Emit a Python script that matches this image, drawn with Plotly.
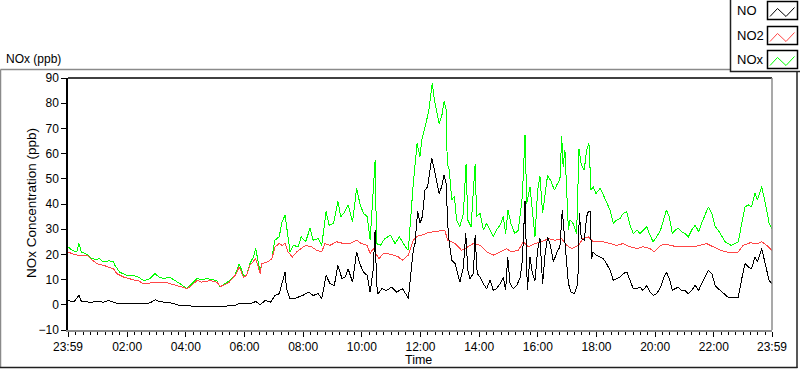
import datetime as dt
import plotly.graph_objects as go

# ---------------- data (hours after 23:59 start, ppb) ----------------
no_hours = [0.0, 0.2, 0.375, 0.45, 0.6, 0.8, 1.0, 1.2, 1.4, 1.6, 1.8, 2.0, 2.2, 2.4, 2.6, 2.8, 2.97, 3.15, 3.36, 3.6,
            3.8, 4.0, 4.2, 4.5, 4.8, 5.1, 5.4, 5.7, 5.86, 6.0, 6.2, 6.4, 6.55, 6.72, 6.9, 7.06, 7.2, 7.3, 7.4, 7.45,
            7.57, 7.7, 7.85, 8.0, 8.2, 8.36, 8.53, 8.65, 8.8, 8.93, 9.08, 9.2, 9.34, 9.45, 9.55, 9.7, 9.84, 9.95, 10.07, 10.2,
            10.3, 10.4, 10.47, 10.52, 10.57, 10.7, 10.86, 11.03, 11.2, 11.4, 11.55, 11.6, 11.7, 11.77, 11.83, 11.92, 12.0, 12.08, 12.17, 12.26,
            12.34, 12.4, 12.49, 12.57, 12.65, 12.74, 12.82, 12.89, 12.95, 13.0, 13.08, 13.2, 13.3, 13.36, 13.48, 13.56, 13.63, 13.7, 13.82, 13.88,
            13.95, 14.05, 14.16, 14.27, 14.39, 14.5, 14.6, 14.73, 14.84, 14.92, 14.99, 15.07, 15.18, 15.3, 15.42, 15.49, 15.58, 15.66, 15.75, 15.83,
            15.92, 16.01, 16.09, 16.18, 16.26, 16.35, 16.43, 16.55, 16.67, 16.77, 16.85, 16.92, 17.0, 17.06, 17.15, 17.26, 17.38, 17.43, 17.5, 17.6,
            17.68, 17.74, 17.8, 17.85, 17.9, 18.0, 18.14, 18.25, 18.36, 18.48, 18.59, 18.7, 18.82, 18.93, 19.05, 19.16, 19.27, 19.4, 19.5, 19.6,
            19.73, 19.84, 19.95, 20.07, 20.2, 20.3, 20.4, 20.5, 20.6, 20.7, 20.8, 20.92, 21.03, 21.15, 21.26, 21.38, 21.5, 21.6, 21.7, 21.83,
            21.95, 22.06, 22.17, 22.3, 22.4, 22.5, 22.6, 22.74, 22.85, 22.97, 23.08, 23.2, 23.3, 23.42, 23.5, 23.65, 23.73, 23.82, 23.9, 24.0]
no_values = [1.7, 1.2, 3.7, 1.5, 1.2, 1.0, 1.5, 1.0, 1.7, 0.8, 0.4, 0.5, 0.3, 0.6, 0.4, 0.8, 2.0, 1.2, 1.0, 0.5,
             -0.3, -0.2, -0.5, -0.6, -0.5, -0.6, -0.5, -0.3, 0.7, 0.4, 0.4, 1.3, 0.0, 1.7, 1.0, 3.7, 4.4, 8.4, 13.0, 6.4,
             2.4, 2.4, 3.0, 3.7, 5.0, 3.7, 4.4, 2.4, 11.7, 8.4, 7.7, 15.7, 10.4, 11.0, 14.3, 9.0, 21.0, 16.3, 13.0, 11.7,
             5.0, 13.7, 29.6, 8.4, 4.4, 6.4, 5.7, 7.0, 5.0, 6.4, 3.7, 2.4, 13.7, 21.6, 24.3, 37.0, 32.3, 35.0, 45.5, 46.9,
             53.5, 58.2, 53.5, 48.2, 44.2, 46.9, 51.5, 48.2, 31.0, 24.3, 17.7, 16.3, 11.0, 9.0, 15.0, 28.3, 13.7, 10.4, 12.4, 27.6,
             12.4, 11.0, 8.4, 6.4, 9.7, 5.7, 6.4, 8.4, 11.0, 5.7, 19.0, 8.4, 6.4, 7.7, 11.0, 17.7, 41.0, 5.7, 19.0, 12.4,
             9.7, 21.6, 26.3, 8.4, 19.7, 27.0, 24.3, 17.0, 21.0, 23.0, 37.6, 27.0, 15.0, 8.4, 5.0, 4.4, 8.4, 36.3, 26.3, 25.6,
             35.0, 37.0, 37.0, 18.3, 21.0, 19.7, 19.0, 18.3, 16.3, 13.7, 9.7, 10.4, 11.0, 12.4, 13.0, 9.7, 6.4, 6.4, 7.0, 5.7,
             7.7, 5.0, 3.7, 4.4, 7.0, 10.4, 13.0, 10.4, 5.7, 6.4, 7.0, 5.7, 5.7, 4.4, 5.7, 7.7, 5.7, 8.4, 11.0, 13.7,
             12.4, 7.7, 6.4, 5.0, 3.7, 3.0, 3.0, 3.0, 3.0, 10.4, 16.3, 15.0, 14.3, 19.0, 17.0, 22.3, 17.7, 13.7, 9.7, 8.4]

no2_hours = [0.0, 0.2, 0.4, 0.64, 0.8, 1.0, 1.2, 1.4, 1.55, 1.66, 1.9, 2.2, 2.4, 2.57, 2.75, 2.9, 3.1, 3.36, 3.6, 3.8,
             3.9, 4.05, 4.2, 4.4, 4.55, 4.7, 4.9, 5.07, 5.2, 5.35, 5.5, 5.7, 5.84, 5.98, 6.09, 6.2, 6.4, 6.55, 6.6, 6.8,
             6.95, 7.06, 7.2, 7.3, 7.4, 7.5, 7.65, 7.8, 7.95, 8.1, 8.3, 8.48, 8.65, 8.76, 8.93, 9.16, 9.4, 9.6, 9.84, 10.0,
             10.2, 10.3, 10.4, 10.6, 10.75, 10.9, 11.1, 11.26, 11.4, 11.6, 11.77, 11.95, 12.06, 12.28, 12.5, 12.84, 12.95, 13.2, 13.42, 13.65,
             13.82, 14.05, 14.27, 14.5, 14.73, 14.95, 15.1, 15.35, 15.52, 15.7, 15.92, 16.15, 16.38, 16.6, 16.83, 17.0, 17.17, 17.4, 17.56, 17.74,
             17.9, 18.0, 18.25, 18.48, 18.7, 18.93, 19.16, 19.4, 19.6, 19.84, 19.98, 20.2, 20.4, 20.6, 20.84, 21.07, 21.3, 21.55, 21.77, 22.0,
             22.24, 22.45, 22.7, 22.85, 23.02, 23.25, 23.5, 23.65, 23.82, 24.0]
no2_values = [21.0, 20.0, 19.5, 19.7, 18.0, 16.3, 15.7, 15.0, 14.3, 12.4, 11.0, 10.0, 9.5, 8.4, 8.5, 9.0, 9.0, 8.8, 8.0, 7.5,
              7.0, 6.4, 7.5, 9.7, 9.0, 9.4, 9.5, 9.0, 7.3, 8.0, 9.0, 11.7, 15.0, 11.0, 11.7, 15.7, 18.3, 12.4, 16.3, 17.0,
              18.3, 23.0, 24.3, 23.6, 24.3, 21.0, 19.0, 21.0, 22.3, 23.6, 23.0, 21.6, 21.0, 24.3, 23.6, 25.0, 24.3, 24.3, 25.6, 24.3,
              23.6, 20.3, 22.3, 18.3, 20.3, 20.3, 19.7, 19.0, 17.7, 19.7, 25.6, 27.6, 27.6, 28.7, 29.0, 29.6, 25.6, 24.3, 21.6, 23.0,
              24.3, 23.6, 21.0, 19.7, 21.0, 22.3, 21.0, 21.6, 25.0, 23.0, 24.3, 25.0, 26.3, 25.6, 26.3, 23.6, 22.3, 23.6, 26.3, 27.0,
              25.0, 25.0, 25.0, 24.3, 23.6, 24.3, 23.0, 22.3, 23.0, 22.3, 21.0, 23.6, 24.0, 23.4, 23.0, 23.0, 23.0, 23.6, 24.3, 23.0,
              21.6, 21.0, 20.6, 21.0, 23.6, 24.6, 24.3, 25.0, 23.6, 21.6]

nox_hours = [0.0, 0.15, 0.3, 0.375, 0.45, 0.64, 0.8, 0.95, 1.09, 1.2, 1.4, 1.55, 1.6, 1.76, 1.99, 2.2, 2.4, 2.57, 2.75, 2.9,
             2.97, 3.1, 3.25, 3.45, 3.6, 3.82, 4.05, 4.2, 4.39, 4.55, 4.73, 4.9, 5.07, 5.18, 5.35, 5.52, 5.7, 5.84, 5.98, 6.09,
             6.2, 6.32, 6.4, 6.55, 6.6, 6.8, 6.95, 7.05, 7.2, 7.3, 7.4, 7.45, 7.57, 7.68, 7.85, 7.95, 8.1, 8.25, 8.36, 8.53,
             8.65, 8.8, 8.9, 9.05, 9.2, 9.3, 9.4, 9.55, 9.7, 9.84, 9.95, 10.07, 10.2, 10.3, 10.4, 10.47, 10.52, 10.65, 10.8, 11.0,
             11.15, 11.3, 11.5, 11.6, 11.7, 11.77, 11.9, 12.0, 12.06, 12.15, 12.23, 12.3, 12.375, 12.42, 12.49, 12.57, 12.65, 12.74, 12.82, 12.89,
             12.93, 13.0, 13.08, 13.17, 13.25, 13.36, 13.48, 13.57, 13.63, 13.74, 13.88, 13.93, 14.05, 14.16, 14.27, 14.39, 14.5, 14.6, 14.73, 14.84,
             14.92, 15.0, 15.1, 15.23, 15.35, 15.49, 15.58, 15.64, 15.75, 15.83, 15.92, 16.01, 16.09, 16.18, 16.26, 16.35, 16.47, 16.58, 16.69, 16.77,
             16.83, 16.88, 16.94, 17.0, 17.06, 17.11, 17.22, 17.34, 17.42, 17.5, 17.6, 17.68, 17.76, 17.83, 17.9, 18.0, 18.14, 18.25, 18.36, 18.48,
             18.59, 18.7, 18.82, 18.93, 19.05, 19.16, 19.27, 19.4, 19.5, 19.6, 19.73, 19.84, 19.95, 20.07, 20.2, 20.3, 20.4, 20.5, 20.6, 20.7,
             20.8, 20.92, 21.03, 21.15, 21.26, 21.38, 21.5, 21.6, 21.7, 21.83, 21.95, 22.06, 22.17, 22.3, 22.4, 22.5, 22.6, 22.74, 22.85, 22.97,
             23.08, 23.2, 23.3, 23.42, 23.5, 23.65, 23.73, 23.82, 23.9, 24.0]
nox_values = [23.0, 21.5, 21.0, 24.3, 21.0, 20.0, 18.5, 18.0, 18.3, 17.0, 17.5, 17.0, 15.7, 13.0, 11.7, 11.7, 11.0, 9.7, 10.0, 11.7,
              12.4, 11.0, 10.4, 11.0, 10.0, 8.4, 6.4, 8.0, 10.4, 10.0, 10.4, 10.0, 9.7, 7.0, 8.5, 9.7, 12.0, 16.3, 11.7, 11.7,
              16.3, 19.0, 22.3, 13.0, 16.3, 17.0, 18.3, 25.6, 27.0, 33.0, 35.6, 31.0, 21.0, 23.6, 23.0, 27.0, 25.0, 30.3, 25.6, 26.3,
              23.6, 37.0, 31.6, 32.3, 41.0, 35.0, 36.3, 39.6, 33.0, 46.2, 40.2, 36.3, 35.0, 25.6, 45.5, 57.5, 24.3, 23.6, 26.3, 27.6,
              24.3, 27.0, 23.0, 21.6, 37.0, 48.0, 64.0, 58.8, 65.5, 69.5, 74.0, 76.8, 84.0, 88.0, 81.4, 76.0, 72.0, 74.7, 80.7, 77.4,
              56.0, 53.5, 41.6, 43.0, 33.6, 31.0, 36.3, 56.0, 33.6, 31.0, 56.0, 35.0, 36.3, 29.6, 32.3, 29.6, 27.0, 29.6, 31.6, 35.0,
              28.3, 37.6, 32.3, 28.3, 29.6, 43.0, 67.5, 40.2, 46.9, 37.6, 27.0, 45.5, 50.9, 36.3, 43.0, 51.5, 48.9, 45.5, 48.2, 49.5,
              66.8, 54.8, 61.5, 43.0, 29.6, 33.6, 32.3, 28.3, 62.0, 55.5, 53.5, 61.5, 64.0, 45.5, 46.9, 44.2, 46.2, 43.6, 41.0, 37.6,
              32.3, 33.6, 34.3, 36.3, 36.9, 31.6, 28.3, 29.6, 28.3, 29.6, 31.0, 27.6, 25.0, 27.0, 29.6, 33.6, 37.6, 35.0, 28.3, 29.6,
              30.3, 29.0, 28.3, 27.0, 29.6, 31.6, 29.0, 32.3, 35.0, 38.9, 36.3, 31.0, 29.6, 27.0, 25.0, 24.3, 23.6, 24.3, 25.0, 32.3,
              38.9, 39.6, 38.9, 44.2, 41.6, 46.9, 42.9, 37.6, 32.3, 30.3]

tick_labels = ["23:59", "02:00", "04:00", "06:00", "08:00", "10:00", "12:00",
               "14:00", "16:00", "18:00", "20:00", "22:00", "23:59"]
series_names = ["NO", "NO2", "NOx"]
series_colors = ["#000000", "#ff4646", "#00ff00"]

# ---------------- helpers ----------------
start = dt.datetime(2024, 1, 1, 23, 59)


def to_time(hours):
    return [start + dt.timedelta(hours=h) for h in hours]


tick_vals = []
for i, lab in enumerate(tick_labels):
    hh, mm = map(int, lab.split(":"))
    day = 1 if i == 0 else 2
    tick_vals.append(dt.datetime(2024, 1, day, hh, mm))

W, H = 800, 369
L, R, T, B = 68, 772, 78, 330   # plot area pixel box


def px(x):
    return (x - L) / (R - L)


def py(y):
    return (B - y) / (B - T)


FONT = "Liberation Sans"

fig = go.Figure()
for hrs, vals, name, col in [(nox_hours, nox_values, series_names[2], series_colors[2]),
                             (no2_hours, no2_values, series_names[1], series_colors[1]),
                             (no_hours, no_values, series_names[0], series_colors[0])]:
    fig.add_trace(go.Scatter(x=to_time(hrs), y=vals, mode="lines", name=name,
                             line=dict(color=col, width=1), showlegend=False))

shapes = []
# outer panel frame: light top/left, dark bottom/right
shapes.append(dict(type="line", xref="paper", yref="paper", x0=px(0.5), x1=px(797), y0=py(69.5), y1=py(69.5),
                   line=dict(color="#8a8a8a", width=1.5)))
shapes.append(dict(type="line", xref="paper", yref="paper", x0=px(0.5), x1=px(0.5), y0=py(69.5), y1=py(368),
                   line=dict(color="#8a8a8a", width=1.5)))
shapes.append(dict(type="line", xref="paper", yref="paper", x0=px(0), x1=px(797.5), y0=py(367.5), y1=py(367.5),
                   line=dict(color="#202020", width=1.5)))
shapes.append(dict(type="line", xref="paper", yref="paper", x0=px(797), x1=px(797), y0=py(69), y1=py(368),
                   line=dict(color="#202020", width=1.5)))
# plot-area border: top & left black, right gray
shapes.append(dict(type="line", xref="paper", yref="paper", x0=0, x1=1, y0=1, y1=1,
                   line=dict(color="#000000", width=1.5)))
shapes.append(dict(type="line", xref="paper", yref="paper", x0=1, x1=1, y0=0, y1=1,
                   line=dict(color="#8c8c8c", width=1.5)))

# legend box
shapes.append(dict(type="rect", xref="paper", yref="paper", x0=px(730.5), x1=px(801), y0=py(71.5), y1=py(-2),
                   fillcolor="white", line=dict(color="#202020", width=1.5)))
annotations = []
leg_rows = [10.5, 35.5, 59.5]
for name, col, yc in zip(series_names, series_colors, leg_rows):
    shapes.append(dict(type="rect", xref="paper", yref="paper", x0=px(767.5), x1=px(797.5),
                       y0=py(yc + 9), y1=py(yc - 9), fillcolor="white",
                       line=dict(color="#000000", width=1.5)))
    pts = [(770, yc + 6), (777.5, yc - 2), (786, yc + 6), (794.5, yc - 3)]
    path = "M " + " L ".join(f"{px(a):.5f},{py(b):.5f}" for a, b in pts)
    shapes.append(dict(type="path", xref="paper", yref="paper", path=path,
                       line=dict(color=col, width=1)))
    annotations.append(dict(text=name, xref="paper", yref="paper", x=px(735), y=py(yc),
                            xanchor="left", yanchor="middle", showarrow=False,
                            font=dict(family=FONT, size=13, color="#000000")))

annotations.append(dict(text="NOx (ppb)", xref="paper", yref="paper", x=px(4), y=py(58.5),
                        xanchor="left", yanchor="middle", showarrow=False,
                        font=dict(family=FONT, size=12, color="#000000")))
annotations.append(dict(text="NOx Concentration (ppb)", xref="paper", yref="paper", x=px(31), y=py(203),
                        xanchor="center", yanchor="middle", textangle=-90, showarrow=False,
                        font=dict(family=FONT, size=13.5, color="#000000")))
annotations.append(dict(text="Time", xref="paper", yref="paper", x=px(418), y=py(360),
                        xanchor="center", yanchor="middle", showarrow=False,
                        font=dict(family=FONT, size=12.5, color="#000000")))

fig.update_layout(
    width=W, height=H,
    margin=dict(l=L, r=W - R, t=T, b=H - B, pad=0),
    paper_bgcolor="white", plot_bgcolor="white",
    showlegend=False,
    shapes=shapes, annotations=annotations,
    font=dict(family=FONT, size=12, color="#000000"),
    xaxis=dict(range=[tick_vals[0], tick_vals[-1]], tickmode="array", tickvals=tick_vals, ticktext=tick_labels,
               showgrid=False, zeroline=False, showline=True, linecolor="#8c8c8c", linewidth=1.5,
               ticks="outside", ticklen=5, tickcolor="#000000", tickwidth=1,
               minor=dict(ticks="outside", ticklen=3, tickcolor="#000000", tickwidth=1,
                          tick0="2024-01-02 00:00", dtick=15 * 60 * 1000, showgrid=False),
               tickfont=dict(family=FONT, size=12, color="#000000")),
    yaxis=dict(range=[-10, 90], dtick=10, tick0=0, showgrid=False, zeroline=False,
               showline=True, linecolor="#000000", linewidth=1.5,
               ticks="outside", ticklen=5, tickcolor="#000000", tickwidth=1,
               tickfont=dict(family=FONT, size=12, color="#000000")),
)

post = ("document.body.style.margin='0px';document.body.style.overflow='hidden';"
        "document.querySelectorAll('.scatterlayer path.js-line').forEach(function(p){"
        "p.style.shapeRendering='crispEdges';});")
fig.write_html("out.html", config={"displayModeBar": False}, post_script=post)
